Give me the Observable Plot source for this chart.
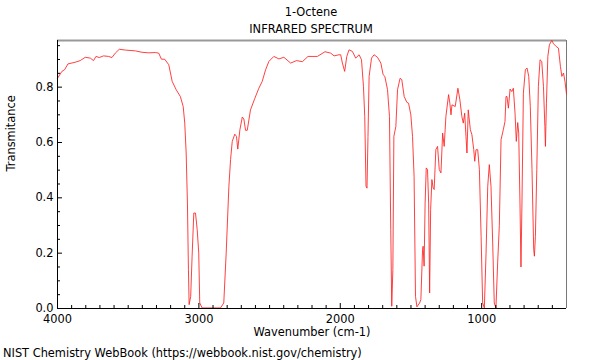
<!DOCTYPE html>
<html>
<head>
<meta charset="utf-8">
<script src="https://cdn.jsdelivr.net/npm/d3@7"></script>
<script src="https://cdn.jsdelivr.net/npm/@observablehq/plot@0.6"></script>
<style>
  html, body { margin: 0; padding: 0; background: #fff; }
  #wrap { position: relative; width: 600px; height: 360px; font-family: "DejaVu Sans", sans-serif; font-size: 11.4px; color: #000; }
  .t { position: absolute; left: 22px; width: 578px; text-align: center; line-height: 17px; white-space: nowrap; }
  .cap { position: absolute; left: 3px; line-height: 17px; white-space: nowrap; }
  #chart { position: absolute; left: 0; top: 0; }
</style>
</head>
<body>
<div id="wrap">
  <div id="chart"></div>
  <div class="t" id="title" style="top:4px"></div>
  <div class="t" id="subtitle" style="top:21px"></div>
  <div class="cap" id="caption" style="top:345px"></div>
</div>
<script>
const title = "1-Octene";
const subtitle = "INFRARED SPECTRUM";
const caption = "NIST Chemistry WebBook (https://webbook.nist.gov/chemistry)";
const xLabel = "Wavenumber (cm-1)";
const yLabel = "Transmitance";

const xDomain = [4000, 400];
const yDomain = [0, 0.9686];
const xMajorTicks = [4000, 3000, 2000, 1000];
const xMinorTicks = [3900,3800,3700,3600,3500,3400,3300,3200,3100,2900,2800,2700,2600,2500,2400,2300,2200,2100,1900,1800,1700,1600,1500,1400,1300,1200,1100,900,800,700,600,500];
const yMajorTicks = [0, 0.2, 0.4, 0.6, 0.8];
const yMinorTicks = [0.05,0.1,0.15,0.25,0.3,0.35,0.45,0.5,0.55,0.65,0.7,0.75,0.85,0.9,0.95];

const wavenumber = [4000,3969,3950,3926,3875,3839,3804,3768,3745,3728,3705,3674,3639,3615,3591,3563,3520,3449,3402,3355,3308,3284,3265,3242,3213,3189,3161,3131,3111,3100,3090,3081,3074,3069,3058,3048,3036,3024,3012,3001,2994,2977,2847,2824,2807,2788,2776,2764,2746,2734,2725,2710,2693,2682,2670,2658,2635,2604,2576,2552,2528,2505,2470,2434,2399,2351,2309,2268,2228,2162,2108,2068,2044,2009,1997,1985,1969,1954,1938,1914,1891,1867,1850,1836,1827,1818,1811,1804,1796,1779,1761,1737,1713,1697,1685,1666,1652,1643,1636,1628,1621,1607,1595,1577,1565,1548,1529,1517,1501,1489,1478,1468,1458,1439,1430,1418,1414,1407,1400,1392,1383,1375,1368,1361,1352,1343,1336,1324,1312,1300,1288,1276,1265,1253,1234,1225,1217,1210,1187,1168,1154,1140,1130,1120,1111,1104,1095,1080,1069,1056,1049,1040,1028,1016,1004,993,981,969,957,946,934,922,911,899,887,875,863,847,835,828,821,811,799,787,776,764,755,745,738,729,722,715,705,691,679,667,656,644,632,627,620,610,599,587,575,563,553,549,542,532,521,504,492,473,457,443,433,421,411,400];
const transmittance = [0.832,0.857,0.863,0.884,0.890,0.896,0.908,0.905,0.896,0.911,0.907,0.913,0.911,0.907,0.923,0.937,0.934,0.931,0.926,0.924,0.925,0.923,0.901,0.901,0.881,0.821,0.791,0.766,0.730,0.670,0.562,0.381,0.142,0.014,0.044,0.189,0.345,0.345,0.285,0.201,0.020,0.002,0.002,0.020,0.200,0.440,0.538,0.604,0.630,0.622,0.576,0.646,0.692,0.685,0.644,0.644,0.718,0.760,0.796,0.821,0.863,0.893,0.911,0.902,0.908,0.887,0.896,0.892,0.911,0.911,0.928,0.923,0.913,0.917,0.917,0.887,0.857,0.911,0.935,0.929,0.905,0.917,0.899,0.803,0.694,0.442,0.435,0.622,0.839,0.905,0.917,0.908,0.887,0.845,0.839,0.791,0.694,0.285,0.008,0.141,0.622,0.658,0.791,0.832,0.827,0.766,0.745,0.742,0.700,0.622,0.478,0.044,0.006,0.020,0.032,0.213,0.225,0.153,0.381,0.508,0.502,0.381,0.056,0.357,0.466,0.435,0.430,0.574,0.586,0.502,0.490,0.634,0.586,0.694,0.773,0.742,0.700,0.736,0.730,0.796,0.754,0.694,0.670,0.706,0.622,0.562,0.718,0.646,0.628,0.574,0.532,0.574,0.574,0.502,0.261,0.020,0.002,0.200,0.442,0.520,0.442,0.237,0.020,0.002,0.165,0.300,0.610,0.646,0.676,0.766,0.766,0.724,0.793,0.784,0.796,0.706,0.604,0.672,0.634,0.381,0.150,0.381,0.778,0.863,0.869,0.839,0.730,0.502,0.213,0.189,0.261,0.502,0.803,0.899,0.893,0.803,0.658,0.586,0.742,0.911,0.953,0.969,0.957,0.947,0.941,0.875,0.839,0.851,0.821,0.775];

const spectrum = wavenumber.map((w, i) => ({w, t: transmittance[i]}));

document.getElementById("title").textContent = title;
document.getElementById("subtitle").textContent = subtitle;
document.getElementById("caption").textContent = caption;

const W = 600, H = 340;
const mL = 57, mR = 34, mT = 40, mB = 32;
const fw = W - mL - mR, fh = H - mT - mB;
const fs = 11.4;

const chart = Plot.plot({
  width: W,
  height: H,
  marginLeft: mL,
  marginRight: mR,
  marginTop: mT,
  marginBottom: mB,
  style: {fontFamily: "DejaVu Sans, sans-serif", fontSize: fs + "px", background: "transparent", overflow: "visible"},
  x: {domain: xDomain, axis: null},
  y: {domain: yDomain, axis: null},
  marks: [
    Plot.ruleY([yDomain[1]], {stroke: "#999", strokeWidth: 2}),
    Plot.ruleX([xDomain[1]], {stroke: "#777", strokeWidth: 1}),
    Plot.line(spectrum, {x: "w", y: "t", stroke: "#ff2020", strokeWidth: 1, strokeOpacity: 0.85}),
    Plot.tickX(xMinorTicks, {x: d => d, insetTop: fh - 3, stroke: "#000"}),
    Plot.tickX(xMajorTicks, {x: d => d, insetTop: fh - 5, stroke: "#000"}),
    Plot.tickY(yMinorTicks, {y: d => d, insetRight: fw - 3, stroke: "#000"}),
    Plot.tickY(yMajorTicks, {y: d => d, insetRight: fw - 5, stroke: "#000"}),
    Plot.ruleX([xDomain[0]], {stroke: "#000"}),
    Plot.ruleY([yDomain[0]], {stroke: "#000"}),
    Plot.axisX(xMajorTicks, {tickSize: 0, tickPadding: 6, fontSize: fs, label: null, tickFormat: d => String(d)}),
    Plot.axisY(yMajorTicks, {tickSize: 0, tickPadding: 4, fontSize: fs, label: null, tickFormat: d3.format(".1f")}),
    Plot.text([xLabel], {frameAnchor: "bottom", dy: 27, fontSize: fs, fill: "#000"}),
    Plot.text([yLabel], {frameAnchor: "left", rotate: -90, dx: -46, dy: -3, fontSize: fs, fill: "#000"})
  ]
});
document.getElementById("chart").appendChild(chart);
</script>
</body>
</html>
